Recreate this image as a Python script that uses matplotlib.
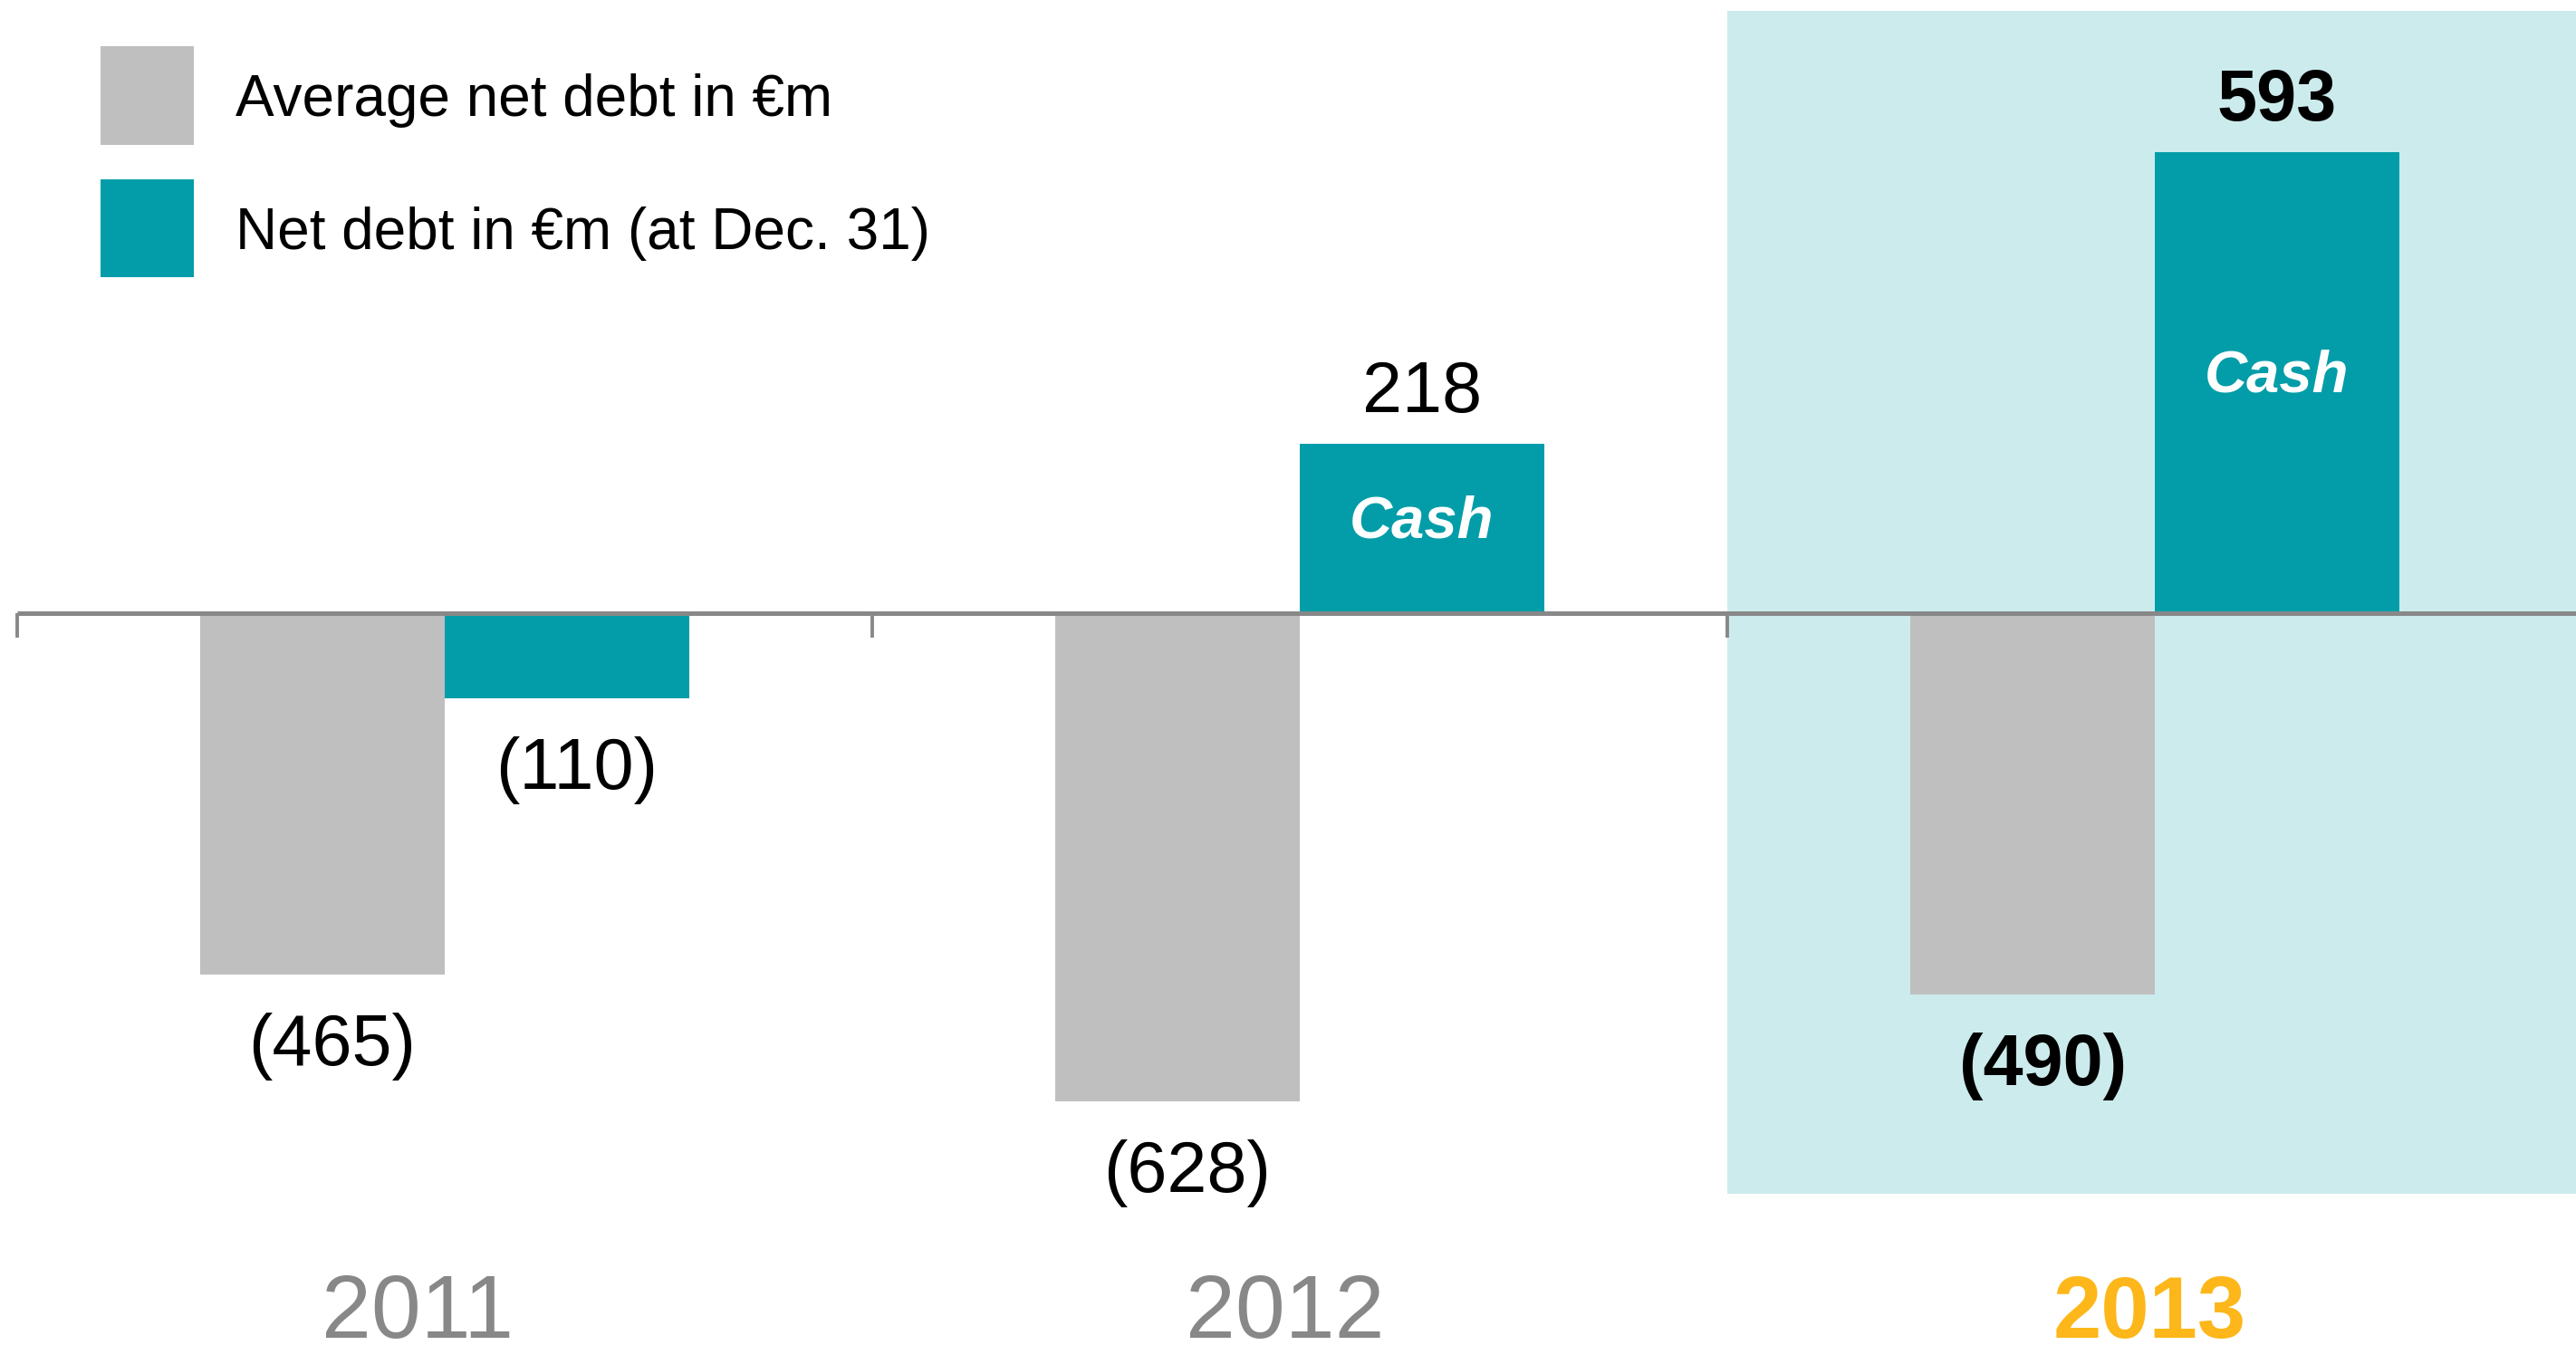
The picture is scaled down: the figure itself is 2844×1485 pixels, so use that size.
import matplotlib
matplotlib.use("Agg")
import matplotlib.pyplot as plt
from matplotlib.patches import Rectangle
import numpy as np

plt.rcParams['font.family'] = ['Liberation Sans', 'DejaVu Sans']

# ---- data ----
years = ['2011', '2012', '2013']
avg_net_debt = [-465, -628, -490]      # Average net debt in €m
net_debt_dec31 = [-110, 218, 593]      # Net debt in €m (at Dec. 31)
bold_flags = [False, False, True]
legend_labels = ['Average net debt in €m', 'Net debt in €m (at Dec. 31)']
inner_label = 'Cash'

GRAY = '#BFBFBF'
TEAL = '#029DA8'
HILITE = '#CCEBEC'
AXIS = '#888888'
ORANGE = '#FDB71A'

W, H, DPI = 28.44, 14.85, 100
fig = plt.figure(figsize=(W, H), dpi=DPI)
ax = fig.add_axes([0, 0, 1, 1])
ax.set_xlim(-0.520, 2.4926)
ax.set_ylim(-941.2, 788.6)
ax.axis('off')

x = np.arange(len(years))
w = 0.286

# highlight for latest year
ax.axvspan(1.5, 3.0, ymin=(1485 - 1318) / 1485, ymax=(1485 - 12) / 1485,
           color=HILITE, zorder=0, lw=0)

ax.bar(x - w / 2, avg_net_debt, width=w, color=GRAY, zorder=2, lw=0)
ax.bar(x + w / 2, net_debt_dec31, width=w, color=TEAL, zorder=2, lw=0)

# baseline + ticks
ax.plot([-0.5, 3.0], [0, 0], color=AXIS, lw=3.6, zorder=3, solid_capstyle='butt')
ax.vlines(x - 0.5, -31.5, 0, color=AXIS, lw=2.8, zorder=3)


def fmt(v):
    return f"({abs(v)})" if v < 0 else f"{v}"


year_dx = [-30, -16, -6]   # small horizontal nudges of the year labels (pixels)

for i in range(len(years)):
    fw = 'bold' if bold_flags[i] else 'normal'
    for xi, v in ((x[i] - w / 2, avg_net_debt[i]), (x[i] + w / 2, net_debt_dec31[i])):
        if v < 0:
            off = (8, -72)
        else:
            off = (0, 25)
        ax.annotate(fmt(v), (xi, v), xytext=off, textcoords='offset points',
                    ha='center', va='baseline', fontsize=57, fontweight=fw,
                    color='black', zorder=4)
        if v > 0:
            ax.annotate(inner_label, (xi, v / 2), xytext=(0, -7), textcoords='offset points',
                        ha='center', va='baseline', fontsize=47, fontweight='bold',
                        fontstyle='italic', color='white', zorder=4)
    ax.annotate(years[i], (x[i], 0), xycoords=('data', 'axes fraction'),
                xytext=(year_dx[i], 8), textcoords='offset pixels',
                ha='center', va='baseline',
                fontsize=69 if bold_flags[i] else 71,
                fontweight='bold' if bold_flags[i] else 'normal',
                color=ORANGE if bold_flags[i] else AXIS, zorder=4)

# legend (manual)
for j, (col, lab) in enumerate(zip([GRAY, TEAL], legend_labels)):
    top_px = [51, 198][j]
    bot_px = [160, 306][j]
    base_px = [128, 275][j]
    fig.patches.append(Rectangle((111 / 2844, 1 - bot_px / 1485), 103 / 2844,
                                 (bot_px - top_px) / 1485, transform=fig.transFigure,
                                 facecolor=col, edgecolor='none'))
    fig.text(260 / 2844, 1 - base_px / 1485, lab, fontsize=46, ha='left',
             va='baseline', color='black')

fig.savefig('out.png', dpi=DPI)
